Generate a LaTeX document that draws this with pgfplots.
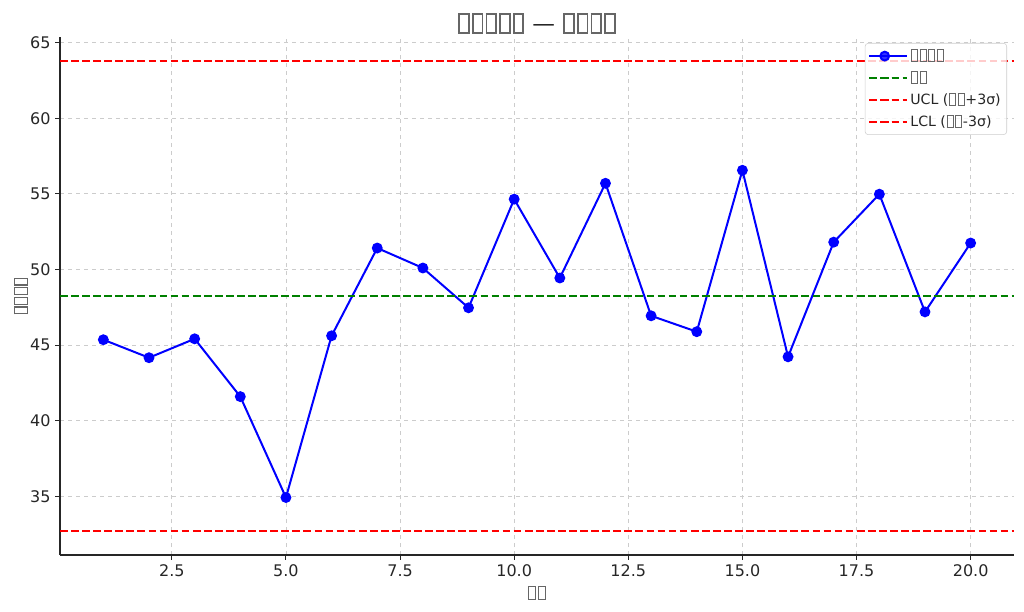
\documentclass[border=0pt]{standalone}
\usepackage{fontspec}
\setmainfont{DejaVu Sans}
\usepackage{pgfplots}
\pgfplotsset{compat=1.18}
\definecolor{mblue}{RGB}{0,0,255}
\definecolor{mgreen}{RGB}{0,128,0}
\definecolor{mred}{RGB}{255,0,0}
\definecolor{txt}{RGB}{38,38,38}
\newcommand{\tofu}{\makebox[0.6em]{\textcolor{black!60}{\fboxsep=0pt\fboxrule=0.075em\fbox{\rule{0pt}{0.75em}\rule{0.35em}{0pt}}}}}
\begin{document}
\begin{tikzpicture}
\useasboundingbox (-45pt,-42pt) rectangle (723pt,416.25pt);
\begin{axis}[
  scale only axis, width=715.5pt, height=388.5pt,
  at={(0pt,0pt)}, anchor=south west,
  xmin=0.05, xmax=20.95, ymin=31.13, ymax=65.37,
  axis x line*=bottom, axis y line*=left,
  axis line style={txt, line width=0.9pt, -},
  xtick={2.5,5,7.5,10,12.5,15,17.5,20},
  ytick={35,40,45,50,55,60,65},
  /pgf/number format/assume math mode=true,
  xticklabel style={/pgf/number format/.cd, fixed, fixed zerofill, precision=1},
  ticklabel style={font=\fontsize{12}{14}\selectfont, text=txt},
  tick align=outside, major tick length=3.6pt,
  tick style={txt, line width=0.8pt},
  grid=major, grid style={dashed, black!20, line width=0.6pt},
  every axis title shift=0pt,
  title={\tofu\tofu\tofu\tofu\tofu\ — \tofu\tofu\tofu\tofu},
  title style={font=\fontsize{17}{20}\selectfont, text=txt, at={(0.5,1)}, anchor=base, yshift=3.75pt},
  xlabel={\tofu\tofu},
  xlabel style={font=\fontsize{12}{14}\selectfont, text=txt, at={(0.5,0)}, anchor=base, yshift=-33pt},
  legend style={at={(1,1)}, anchor=north east, xshift=-5.25pt, yshift=-4.5pt,
    draw=black!20, rounded corners=2.5pt, fill=white, fill opacity=0.8, text opacity=1,
    font=\fontsize{10.6}{12.5}\selectfont, text=txt, row sep=2.2pt, inner sep=2.5pt,
    cells={anchor=west}},
  legend image code/.code={\draw[mark repeat=2, mark phase=2, #1] plot coordinates {(0pt,0pt) (11.5pt,0pt) (23pt,0pt)};\path (0pt,0pt) -- (28pt,0pt);},
]
\addplot[mblue, line width=1.5pt, mark=*, mark size=3.3pt, mark options={solid, fill=mblue, draw=mblue}] coordinates {
(1,45.36) (2,44.17) (3,45.42) (4,41.60) (5,34.93) (6,45.62) (7,51.42) (8,50.10) (9,47.47) (10,54.65)
(11,49.44) (12,55.70) (13,46.94) (14,45.89) (15,56.56) (16,44.23) (17,51.81) (18,54.98) (19,47.20) (20,51.75)};
\addlegendentry{\tofu\tofu\tofu\tofu}
\addplot[mgreen, line width=1.5pt, dash pattern=on 5.8pt off 2.5pt] coordinates {(0.05,48.26) (20.95,48.26)};
\addlegendentry{\tofu\tofu}
\addplot[mred, line width=1.5pt, dash pattern=on 5.8pt off 2.5pt] coordinates {(0.05,63.81) (20.95,63.81)};
\addlegendentry{UCL (\tofu\tofu+3σ)}
\addplot[mred, line width=1.5pt, dash pattern=on 5.8pt off 2.5pt] coordinates {(0.05,32.69) (20.95,32.69)};
\addlegendentry{LCL (\tofu\tofu-3σ)}
\end{axis}
\node[rotate=90, anchor=base, font=\fontsize{12}{14}\selectfont, text=txt] at (-24.75pt,194.25pt) {\tofu\tofu\tofu\tofu};
\end{tikzpicture}
\end{document}
